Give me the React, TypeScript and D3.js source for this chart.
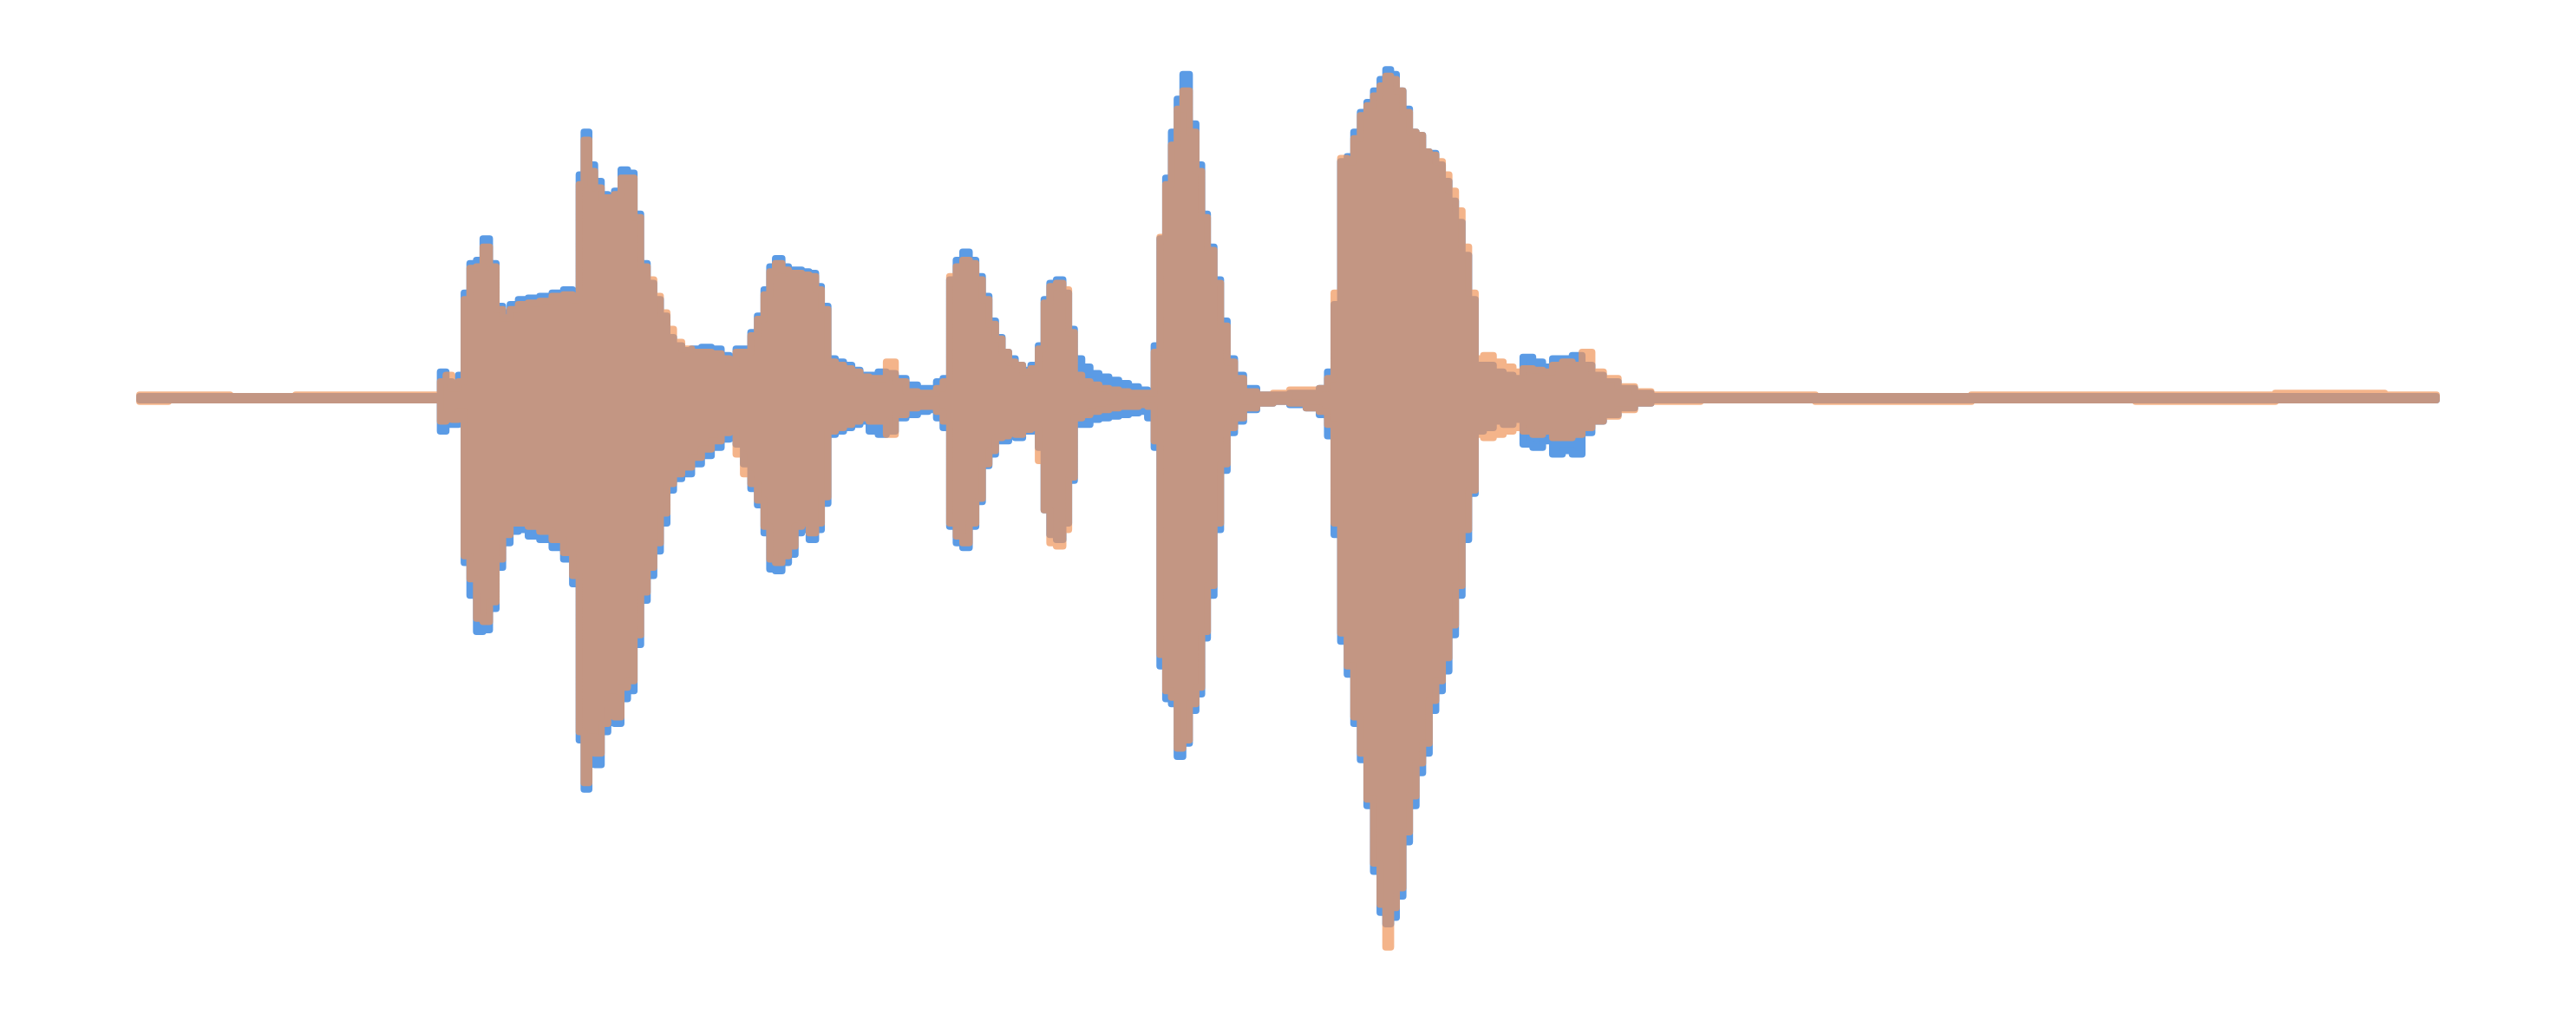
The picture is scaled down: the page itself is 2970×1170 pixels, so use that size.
import { useRef, useEffect } from "react";
import * as d3 from "d3";

// analysis frame index along the recording
const frames = [
  0, 35, 75, 115, 155, 181, 185, 188, 192, 196, 199, 203, 207, 211, 215, 219, 223, 228, 233, 240,
  247, 255, 261, 266, 269, 272, 275, 279, 283, 287, 291, 295, 299, 303, 307, 311, 315, 319, 323, 327,
  333, 339, 345, 351, 357, 361, 365, 370, 374, 378, 382, 385, 389, 393, 397, 401, 405, 410, 413, 417,
  421, 426, 431, 436, 441, 447, 452, 457, 463, 470, 477, 483, 487, 491, 495, 499, 503, 507, 511, 515,
  519, 523, 527, 531, 535, 540, 545, 549, 552, 556, 560, 564, 567, 571, 576, 581, 587, 593, 599, 605,
  611, 616, 619, 623, 626, 630, 633, 637, 641, 645, 648, 652, 656, 660, 664, 669, 675, 685, 695, 705,
  715, 721, 725, 729, 733, 737, 741, 745, 749, 753, 757, 760, 763, 767, 771, 775, 779, 783, 787, 791,
  795, 799, 803, 807, 811, 815, 821, 827, 833, 839, 845, 851, 857, 863, 869, 875, 881, 887, 895, 905,
  915, 925, 975, 1065, 1165, 1265, 1335, 1398,
];

// channel 1 (blue): positive / negative peak per frame
const ch1Max = [
  1, 1, 1, 1, 1, 1, 16, 10, 9, 14, 64, 82, 84, 97, 82, 56, 52, 57, 60, 61,
  62, 64, 66, 62, 136, 162, 142, 132, 124, 120, 126, 139, 137, 112, 82, 70, 60, 50, 37, 32,
  29, 30, 31, 30, 26, 20, 30, 30, 40, 50, 66, 80, 85, 80, 78, 78, 77, 76, 68, 56,
  24, 22, 20, 17, 14, 14, 16, 15, 12, 8, 6, 6, 10, 12, 72, 84, 89, 84, 74, 62,
  47, 37, 28, 24, 20, 17, 20, 32, 60, 70, 72, 64, 42, 24, 19, 15, 13, 11, 9, 7,
  5, 4, 32, 97, 134, 162, 182, 197, 167, 142, 112, 92, 72, 47, 24, 14, 6, 2, 2, 3,
  3, 6, 16, 57, 144, 147, 162, 174, 180, 187, 194, 200, 197, 187, 176, 162, 160, 150, 149, 142,
  132, 120, 107, 87, 60, 20, 20, 16, 14, 12, 25, 22, 19, 24, 24, 26, 20, 14, 10, 6,
  3, 1, 1, 1, 1, 1, 1, 1,
];
const ch1Min = [
  -1, -1, -1, -1, -1, -1, -20, -16, -16, -8, -100, -120, -142, -141, -128, -103, -88, -81, -80, -84,
  -86, -91, -98, -113, -208, -238, -214, -223, -203, -188, -198, -183, -178, -150, -123, -108, -93, -76, -56, -49,
  -46, -40, -35, -30, -25, -21, -28, -40, -55, -65, -82, -104, -105, -100, -95, -82, -80, -86, -80, -64,
  -22, -20, -18, -16, -14, -20, -22, -20, -12, -10, -8, -7, -12, -18, -78, -88, -91, -78, -63, -41,
  -34, -26, -26, -23, -24, -20, -20, -30, -68, -83, -86, -76, -50, -16, -16, -13, -12, -11, -10, -9,
  -8, -12, -30, -163, -183, -186, -218, -210, -190, -180, -146, -120, -80, -44, -21, -14, -7, -3, -2, -4,
  -6, -10, -23, -83, -148, -168, -198, -220, -248, -288, -313, -320, -316, -303, -270, -248, -228, -216, -190, -178,
  -166, -144, -120, -86, -58, -20, -18, -14, -16, -13, -28, -30, -26, -34, -32, -34, -21, -14, -10, -6,
  -3, -1, -1, -1, -1, -1, -1, -1,
];

// channel 2 (orange): positive / negative peak per frame
const ch2Max = [
  2, 2, 1, 2, 2, 2, 10, 14, 6, 10, 60, 79, 80, 92, 80, 54, 49, 54, 57, 58,
  59, 62, 63, 60, 130, 157, 138, 128, 122, 122, 124, 134, 134, 110, 80, 72, 62, 52, 42, 34,
  30, 28, 28, 27, 24, 18, 28, 28, 38, 48, 63, 77, 82, 78, 76, 76, 75, 74, 66, 54,
  22, 20, 18, 16, 13, 12, 12, 22, 10, 4, 3, 3, 6, 10, 74, 80, 84, 82, 72, 60,
  45, 36, 28, 22, 20, 16, 18, 30, 58, 68, 70, 66, 40, 14, 10, 8, 6, 5, 4, 3,
  3, 3, 28, 98, 130, 154, 176, 187, 162, 138, 110, 90, 70, 44, 22, 12, 4, 2, 3, 5,
  5, 6, 12, 64, 146, 144, 158, 172, 178, 184, 190, 196, 194, 187, 174, 162, 160, 150, 148, 144,
  136, 126, 114, 92, 64, 24, 26, 22, 19, 16, 18, 17, 16, 20, 22, 20, 28, 16, 12, 7,
  4, 2, 2, 1, 2, 2, 3, 2,
];
const ch2Min = [
  -2, -1, -1, -1, -1, -1, -14, -10, -13, -8, -96, -110, -134, -136, -124, -98, -83, -76, -76, -78,
  -81, -86, -94, -108, -203, -234, -206, -216, -198, -182, -194, -176, -172, -144, -118, -103, -88, -70, -52, -46,
  -42, -36, -31, -26, -21, -19, -34, -46, -52, -62, -78, -98, -100, -96, -90, -78, -76, -82, -76, -60,
  -20, -18, -16, -14, -12, -14, -14, -22, -10, -6, -5, -5, -8, -14, -76, -84, -88, -76, -61, -40,
  -32, -24, -23, -21, -22, -19, -18, -38, -68, -88, -90, -80, -48, -12, -10, -8, -7, -6, -5, -5,
  -4, -5, -26, -156, -178, -182, -213, -208, -186, -176, -142, -114, -76, -40, -18, -12, -6, -3, -2, -3,
  -6, -8, -16, -76, -143, -163, -194, -216, -244, -283, -308, -334, -310, -298, -264, -242, -222, -210, -184, -172,
  -158, -138, -114, -80, -56, -22, -24, -22, -20, -18, -20, -22, -20, -24, -24, -22, -18, -14, -11, -7,
  -3, -2, -1, -2, -1, -2, -1, -1,
];

const series = [
  { max: ch1Max, min: ch1Min, color: "#5b9be5", opacity: 1 },
  { max: ch2Max, min: ch2Min, color: "#f0955a", opacity: 0.7 },
];

export default function App() {
  const ref = useRef<SVGSVGElement>(null);
  const width = 2970;
  const height = 1170;

  useEffect(() => {
    if (!ref.current) return;
    const svg = d3.select(ref.current);
    svg.selectAll("*").remove();

    const x = d3.scaleLinear().domain([0, 1398]).range([161, 2809]);
    const y = d3.scaleLinear().domain([-340, 340]).range([459 + 644, 459 - 644]);

    series.forEach(({ max, min, color, opacity }) => {
      const area = d3.area<number>()
        .x((_, i) => x(frames[i]))
        .y0((_, i) => y(min[i]))
        .y1((_, i) => y(max[i]))
        .curve(d3.curveStep);
      svg.append("g").attr("opacity", opacity)
        .append("path").datum(frames).attr("d", area)
        .attr("fill", color).attr("stroke", color)
        .attr("stroke-width", 8).attr("stroke-linejoin", "round");
    });
  }, []);

  return (
    <svg ref={ref} width={width} height={height}
      style={{ position: "absolute", left: 0, top: 0, display: "block", background: "#fff" }} />
  );
}
